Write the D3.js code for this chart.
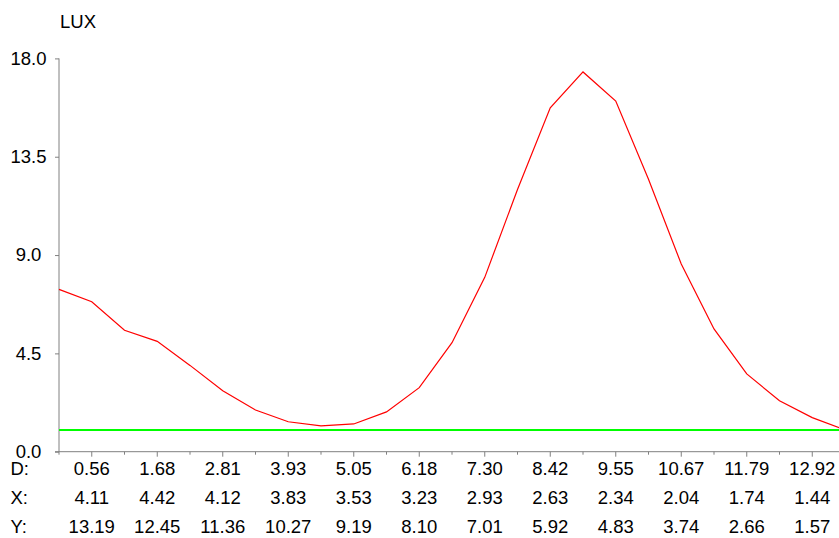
<!DOCTYPE html>
<html><head><meta charset="utf-8">
<script src="https://cdn.jsdelivr.net/npm/d3@7"></script>
<style>
html,body{margin:0;padding:0;background:#fff;}
svg{display:block;}
text{font-family:"Liberation Sans",Arial,sans-serif;fill:#000;}
</style></head>
<body><svg id="c" width="839" height="538"></svg>
<script>
// Sample values (LUX) at each of 25 equally spaced positions along D
const luxValues = [7.43, 6.86, 5.56, 5.05, 3.95, 2.79, 1.91, 1.37, 1.18, 1.27, 1.82, 2.93,
  4.99, 7.98, 12.0, 15.74, 17.38, 16.05, 12.47, 8.59, 5.62, 3.56, 2.33, 1.56, 1.0];
const threshold = 1.0;
const yTicks = [0, 4.5, 9.0, 13.5, 18.0];
const dLabels = ["0.56","1.68","2.81","3.93","5.05","6.18","7.30","8.42","9.55","10.67","11.79","12.92"];
const xLabels = ["4.11","4.42","4.12","3.83","3.53","3.23","2.93","2.63","2.34","2.04","1.74","1.44"];
const yLabels = ["13.19","12.45","11.36","10.27","9.19","8.10","7.01","5.92","4.83","3.74","2.66","1.57"];
const rowNames = ["D:","X:","Y:"];
const yTitle = "LUX";

const svg = d3.select("#c");
const x = d3.scaleLinear().domain([0, luxValues.length - 1]).range([59, 845]);
const y = d3.scaleLinear().domain([0, 18]).range([451.7, 58.4]);
const axisColor = "#808080";
const fs = 18.5;

// y axis
const yAxis = d3.axisLeft(y).tickValues(yTicks).tickSize(4).tickFormat(d3.format(".1f"));
const gy = svg.append("g").attr("transform", "translate(59,0)").call(yAxis);
gy.select(".domain").attr("stroke", axisColor).attr("d", `M0,${y(18)}V${y(0)+3}`);
gy.selectAll(".tick line").attr("stroke", axisColor);
gy.selectAll(".tick text").attr("x", -30.5).attr("text-anchor", "middle")
  .attr("font-size", fs).attr("font-family", "Liberation Sans, Arial, sans-serif").attr("fill", "#000");

// x axis (minor ticks at every sample, longer ticks at labelled ones)
const idx = d3.range(luxValues.length);
const gx = svg.append("g");
gx.append("line").attr("x1", 55).attr("x2", 839).attr("y1", y(0)).attr("y2", y(0)).attr("stroke", axisColor);
gx.selectAll("line.tk").data(idx.filter(i => i > 0)).join("line").attr("class", "tk")
  .attr("x1", i => x(i)).attr("x2", i => x(i))
  .attr("y1", y(0)).attr("y2", i => y(0) + (i % 2 === 1 ? 5 : 3))
  .attr("stroke", axisColor);

// threshold line
svg.append("line").attr("x1", x(0)).attr("x2", 839)
  .attr("y1", Math.round(y(threshold))).attr("y2", Math.round(y(threshold)))
  .attr("stroke", "#00ff00").attr("stroke-width", 2);

// data line
svg.append("path").datum(luxValues)
  .attr("fill", "none").attr("stroke", "#ff0000").attr("stroke-width", 1.2)
  .attr("d", d3.line().x((d, i) => x(i)).y(d => y(d)));

// title
svg.append("text").attr("x", 60).attr("y", 27.5).attr("font-size", fs).text(yTitle);

// table rows
const rows = [dLabels, xLabels, yLabels];
const rowY = [469, 498, 526.5];
rows.forEach((labels, r) => {
  svg.append("text").attr("x", 10.5).attr("y", rowY[r]).attr("dy", "0.35em")
    .attr("font-size", fs).text(rowNames[r]);
  svg.selectAll(null).data(labels).join("text")
    .attr("x", (d, k) => x(2 * k + 1)).attr("y", rowY[r]).attr("dy", "0.35em")
    .attr("text-anchor", "middle").attr("font-size", fs).text(d => d);
});
</script></body></html>
